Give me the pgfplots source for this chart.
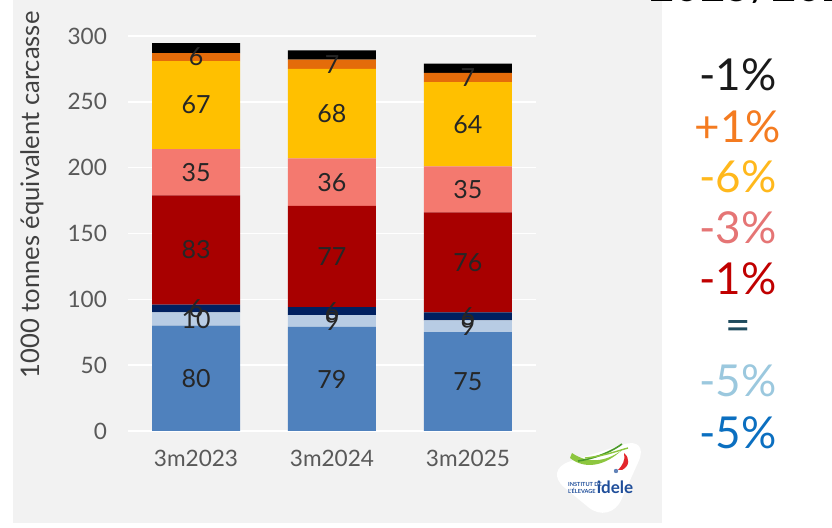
\documentclass[border=0pt]{standalone}
\usepackage{fontspec}
\setmainfont{Lato}
\usepackage{pgfplots}
\pgfplotsset{compat=1.18}

\definecolor{bggray}{HTML}{F2F2F2}
\definecolor{cblue}{HTML}{4F81BD}
\definecolor{clblue}{HTML}{B8CCE4}
\definecolor{cnavy}{HTML}{002060}
\definecolor{cdred}{HTML}{A80000}
\definecolor{csalmon}{HTML}{F4796F}
\definecolor{cyellow}{HTML}{FFC000}
\definecolor{corange}{HTML}{E46C0A}
\definecolor{tickgray}{HTML}{595959}
\definecolor{pblack}{HTML}{1A1A1A}
\definecolor{porange}{HTML}{F47B20}
\definecolor{pyellow}{HTML}{FFB81C}
\definecolor{psalmon}{HTML}{E57575}
\definecolor{pred}{HTML}{C00000}
\definecolor{pteal}{HTML}{1F4B5E}
\definecolor{plblue}{HTML}{9BC8DE}
\definecolor{pblue}{HTML}{0B6FC0}
\definecolor{logolime}{HTML}{8DC63F}
\definecolor{logogreen}{HTML}{4A9A2A}
\definecolor{logored}{HTML}{E3262C}
\definecolor{logoblue}{HTML}{1F4E9A}

% stacked segment with its value written in the middle
\pgfplotsset{
  seg/.style={fill=#1, draw=none,
    nodes near coords={\pgfmathprintnumber[fixed,precision=0]{\rawy}},
    visualization depends on=rawy \as \rawy,
    every node near coord/.append style={anchor=center, font=\fontsize{12.5}{14}\selectfont, text=black!85}},
}

\begin{document}
\begin{tikzpicture}[x=0.5pt,y=-0.5pt]
\path[use as bounding box] (0,0) rectangle (832,528);
\fill[bggray] (13,0) rectangle (662,523);

\begin{axis}[
  at={(64pt,-215.5pt)}, anchor=south west,
  scale only axis, width=204pt, height=197.5pt,
  ybar stacked, bar width=44pt,
  xmin=-0.5, xmax=2.5, ymin=0, ymax=300,
  xtick={0,1,2}, xticklabels={3m2023,3m2024,3m2025},
  ytick={0,50,...,300},
  axis line style={draw=none}, major tick length=0pt,
  ymajorgrids, grid style={white, line width=0.8pt},
  /pgf/number format/assume math mode=true,
  tick label style={font=\fontsize{11.3}{13}\selectfont, text=tickgray},
  yticklabel style={xshift=-7pt},
  xticklabel style={yshift=-6pt},
]
\addplot[seg=cblue] coordinates {(0,80) (1,79) (2,75)};
\addplot[seg=clblue] coordinates {(0,10) (1,9) (2,9)};
\addplot[seg=cnavy] coordinates {(0,6) (1,6) (2,6)};
\addplot[seg=cdred] coordinates {(0,83) (1,77) (2,76)};
\addplot[seg=csalmon] coordinates {(0,35) (1,36) (2,35)};
\addplot[seg=cyellow] coordinates {(0,67) (1,68) (2,64)};
\addplot[seg=corange] coordinates {(0,6) (1,7) (2,7)};
\addplot[fill=black, draw=none] coordinates {(0,7.5) (1,7) (2,7)};
\end{axis}

\node[rotate=90, text=black!75, font=\fontsize{12.8}{15}\selectfont] at (32,195) {1000 tonnes équivalent carcasse};

% right-hand column of changes
\begin{scope}[every node/.style={font=\fontsize{22}{24}\selectfont}]
\node[text=pblack]  at (738,75)  {-1\%};
\node[text=porange] at (738,127) {+1\%};
\node[text=pyellow] at (738,177) {-6\%};
\node[text=psalmon] at (738,228) {-3\%};
\node[text=pred]    at (738,279) {-1\%};
\node[text=pteal]   at (738,331) {=};
\node[text=plblue]  at (738,381) {-5\%};
\node[text=pblue]   at (738,433) {-5\%};
\end{scope}
\node[anchor=base west, font=\fontsize{22}{24}\selectfont] at (642,1.5) {2025/2024};

% logo
\fill[white, rounded corners=14pt] (543,470) -- (650,436) -- (610,525) -- cycle;
\fill[logolime] (570,458) .. controls (585,470) and (605,466) .. (622,450)
  .. controls (606,462) and (588,464) .. (572,453) -- cycle;
\draw[logogreen, line width=0.8pt] (578,461) .. controls (598,458) and (614,450) .. (622,444);
\draw[logolime, line width=0.7pt] (585,458) .. controls (605,456) and (620,450) .. (628,448);
\fill[logored] (622,470) .. controls (630,466) and (630,458) .. (624,453)
  .. controls (626,460) and (622,466) .. (618,470) -- cycle;
\fill[logoblue!70] (616,471) circle (2.2);
\node[font=\fontsize{2.8}{3.2}\selectfont\bfseries, text=logoblue, align=left, inner sep=0pt] at (585,488) {INSTITUT DE\\L'ÉLEVAGE};
\node[font=\fontsize{8.5}{9}\selectfont\bfseries, text=logoblue, inner sep=0pt] at (615,487) {idele};
\end{tikzpicture}
\end{document}
